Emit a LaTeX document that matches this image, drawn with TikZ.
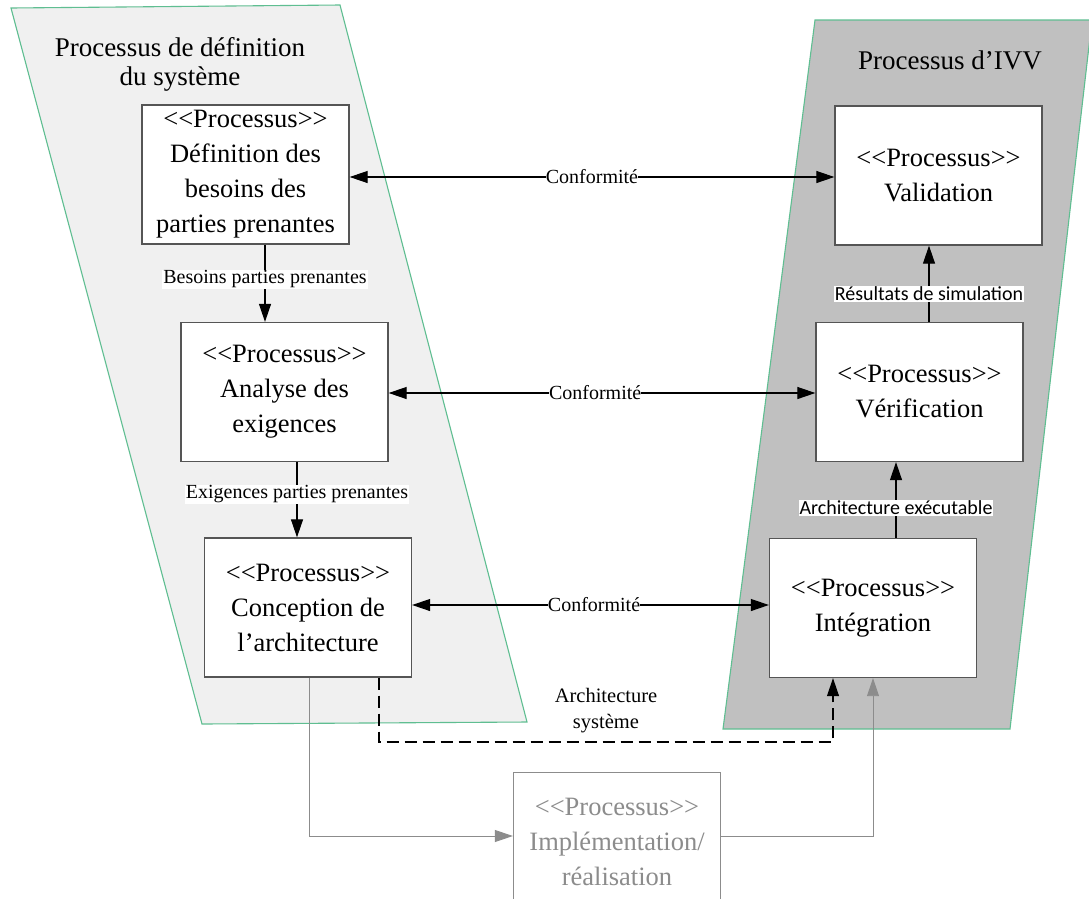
\documentclass[tikz,border=0pt]{standalone}
\usepackage{fontspec}
\setmainfont{Liberation Serif}
\newfontfamily\calfont{Carlito}
\usetikzlibrary{arrows.meta,calc}
\definecolor{grn}{RGB}{95,190,145}
\definecolor{lfill}{RGB}{240,240,240}
\definecolor{rfill}{RGB}{192,192,192}
\definecolor{boxline}{RGB}{85,85,85}
\definecolor{gline}{RGB}{140,140,140}
\newcommand{\proc}{<\kern0pt<Processus>\kern0pt>}
\begin{document}
\begin{tikzpicture}[x=1pt,y=-1pt,
  procbox/.style={draw=boxline,fill=white,line width=1.3pt,minimum width=207pt,minimum height=139pt,
    align=center,font=\fontsize{26.5}{35}\selectfont,inner sep=0pt},
  tip/.style={-{Triangle[length=18pt,width=12pt]}},
  arr/.style={tip,line width=1.1pt},
  darr/.style={{Triangle[length=18pt,width=12pt]}-{Triangle[length=18pt,width=12pt]},line width=1.1pt},
  lab/.style={fill=white,font=\fontsize{20}{22}\selectfont,inner sep=1pt},
  clab/.style={fill=white,font=\calfont\fontsize{20}{22}\selectfont,inner sep=1pt},
  title/.style={align=center,font=\fontsize{27}{29}\selectfont},
  grp/.style={draw=grn,line width=1.1pt},
  garr/.style={draw=gline,line width=0.9pt,-{Triangle[length=18pt,width=12pt,fill=gline]}}]
\useasboundingbox (0,0) rectangle (1089,898);
\fill[white] (0,0) rectangle (1089,898);
% group shapes
\draw[grp,fill=lfill] (11,8) -- (340,5) -- (527,722) -- (202,724) -- cycle;
\draw[grp,fill=rfill] (815,20) -- (1092,20) -- (1010,729) -- (723,729) -- cycle;
\node[title] (t1) at (180,64) {Processus de définition\\du système};
\node[title] (t2) at (950,60) {Processus d’IVV};
% boxes
\node[procbox] (b1) at (245.5,174.5) {\proc\\Définition des\\besoins des\\parties prenantes};
\node[procbox] (b2) at (284.5,392) {\proc\\Analyse des\\exigences};
\node[procbox] (b3) at (308,607.5) {\proc\\Conception de\\l’architecture};
\node[procbox] (val) at (938.5,175.5) {\proc\\Validation};
\node[procbox] (ver) at (919.5,392) {\proc\\Vérification};
\node[procbox] (int) at (873,608) {\proc\\Intégration};
\node[procbox,draw=gline,text=gline] (imp) at (617,842) {\proc\\Implémentation/\\réalisation};
% vertical flows
\draw[arr] (b1.south -| 265,0) -- (b2.north -| 265,0) node[lab,pos=0.45] (l1) {Besoins parties prenantes};
\draw[arr] (b2.south -| 297,0) -- (b3.north -| 297,0) node[lab,pos=0.43] (l2) {Exigences parties prenantes};
\draw[arr] (ver.north -| 929,0) -- (val.south -| 929,0) node[clab,pos=0.37] (l3) {Résultats de simulation};
\draw[arr] (int.north -| 896,0) -- (ver.south -| 896,0) node[clab,pos=0.4] (l4) {Architecture exécutable};
% conformité
\draw[darr] (b1.east |- 0,177) -- (val.west |- 0,177) node[lab,pos=0.5,inner sep=0pt] (c1) {Conformité};
\draw[darr] (b2.east |- 0,393) -- (ver.west |- 0,393) node[lab,pos=0.484,inner sep=0pt] (c2) {Conformité};
\draw[darr] (b3.east |- 0,605) -- (int.west |- 0,605) node[lab,pos=0.51,inner sep=0pt] (c3) {Conformité};
% architecture système (dashed)
\coordinate (dA) at (379,742);
\coordinate (dB) at (833,742);
\draw[arr,dashed,dash pattern=on 12pt off 6pt] (b3.south -| dA) -- (dA) -- (dB) -- (int.south -| dB);
\node[align=center,font=\fontsize{20.5}{26}\selectfont] (l5) at (606,711) {Architecture\\système};
% implementation path
\coordinate (gA) at (309,836);
\coordinate (gB) at (873,836);
\draw[garr] (b3.south -| gA) -- (gA) -- (imp.west |- gA);
\draw[garr] (imp.east |- gB) -- (gB) -- (int.south -| gB);
\end{tikzpicture}
\end{document}
